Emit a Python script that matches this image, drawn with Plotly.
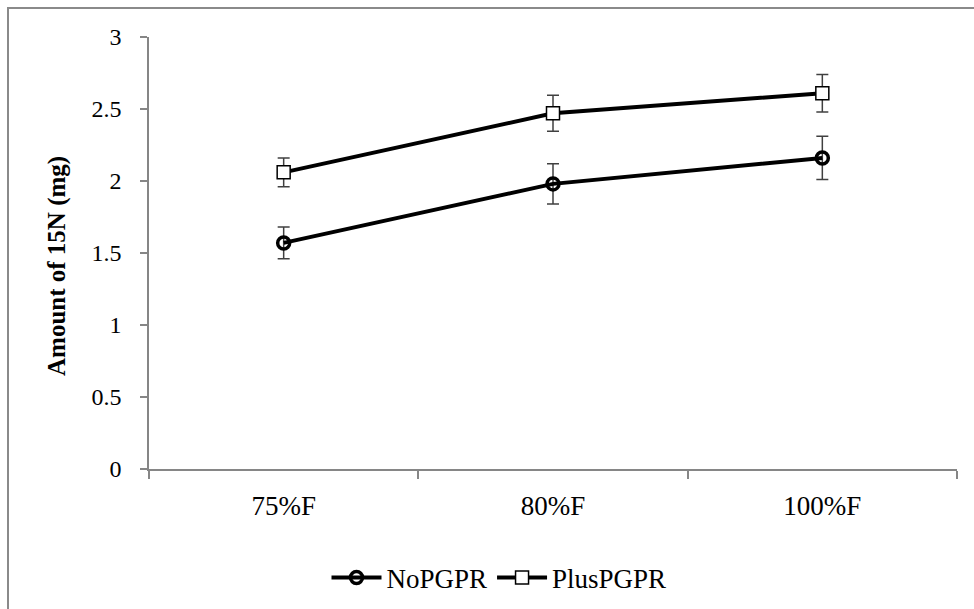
import plotly.graph_objects as go

categories = ["75%F", "80%F", "100%F"]
no_pgpr = [1.57, 1.98, 2.16]
no_pgpr_err = [0.11, 0.14, 0.15]
plus_pgpr = [2.06, 2.47, 2.61]
plus_pgpr_err = [0.10, 0.125, 0.13]
y_ticks = [0, 0.5, 1, 1.5, 2, 2.5, 3]
y_tick_labels = ["0", "0.5", "1", "1.5", "2", "2.5", "3"]
y_title = "Amount of 15N (mg)"

FONT = "'Liberation Serif', 'Times New Roman', 'DejaVu Serif', serif"
W, H = 974, 609
L, R, T, B = 149, 17, 37, 140
pw, ph = W - L - R, H - T - B

fig = go.Figure()
fig.add_trace(go.Scatter(
    x=categories, y=no_pgpr, name="NoPGPR", mode="lines+markers",
    line=dict(color="black", width=4),
    marker=dict(symbol="circle-open", size=12, color="black", line=dict(width=3.5, color="black")),
    error_y=dict(type="data", array=no_pgpr_err, color="#404040", thickness=1.5, width=6),
))
fig.add_trace(go.Scatter(
    x=categories, y=plus_pgpr, name="PlusPGPR", mode="lines+markers",
    line=dict(color="black", width=4),
    marker=dict(symbol="square", size=13, color="white", line=dict(width=1.5, color="black")),
    error_y=dict(type="data", array=plus_pgpr_err, color="#404040", thickness=1.5, width=6),
))

# outer chart frame (extends beyond right and bottom edges)
fig.add_shape(type="rect", xref="paper", yref="paper",
              x0=(8 - L) / pw, x1=(W + 20 - L) / pw,
              y0=-(B + 20) / ph, y1=1 + (T - 8) / ph,
              line=dict(color="#8a8a8a", width=2), fillcolor="rgba(0,0,0,0)", layer="below")

# y-axis title, placed as in the reference (slightly below the axis centre)
fig.add_annotation(text="<b>" + y_title + "</b>", textangle=-90,
                   xref="paper", yref="paper",
                   x=(57 - L) / pw, y=(H - B - 266) / ph,
                   xanchor="center", yanchor="middle", showarrow=False,
                   font=dict(family=FONT, size=25, color="black"))

fig.update_layout(
    width=W, height=H,
    margin=dict(l=L, r=R, t=T, b=B),
    paper_bgcolor="white", plot_bgcolor="white",
    font=dict(family=FONT, size=24, color="black"),
    showlegend=True,
    legend=dict(orientation="h", xref="container", yref="container",
                x=499 / W, y=(H - 578) / H, xanchor="center", yanchor="middle",
                font=dict(family=FONT, size=27, color="black"), itemwidth=50,
                bgcolor="rgba(0,0,0,0)"),
    xaxis=dict(type="category", range=[-0.5, 2.5], tickson="boundaries",
               showline=True, linecolor="#868686", linewidth=1.5,
               ticks="outside", ticklen=8, tickcolor="#868686", tickwidth=1.5,
               showgrid=False, zeroline=False, ticklabelstandoff=12,
               tickfont=dict(family=FONT, size=27, color="black")),
    yaxis=dict(range=[0, 3], tickvals=y_ticks, ticktext=y_tick_labels,
               showline=True, linecolor="#868686", linewidth=1.5,
               ticks="outside", ticklen=7, tickcolor="#868686", tickwidth=1.5,
               showgrid=False, zeroline=False, ticklabelstandoff=14,
               tickfont=dict(family=FONT, size=24, color="black")),
)

fig.write_html("out.html")
